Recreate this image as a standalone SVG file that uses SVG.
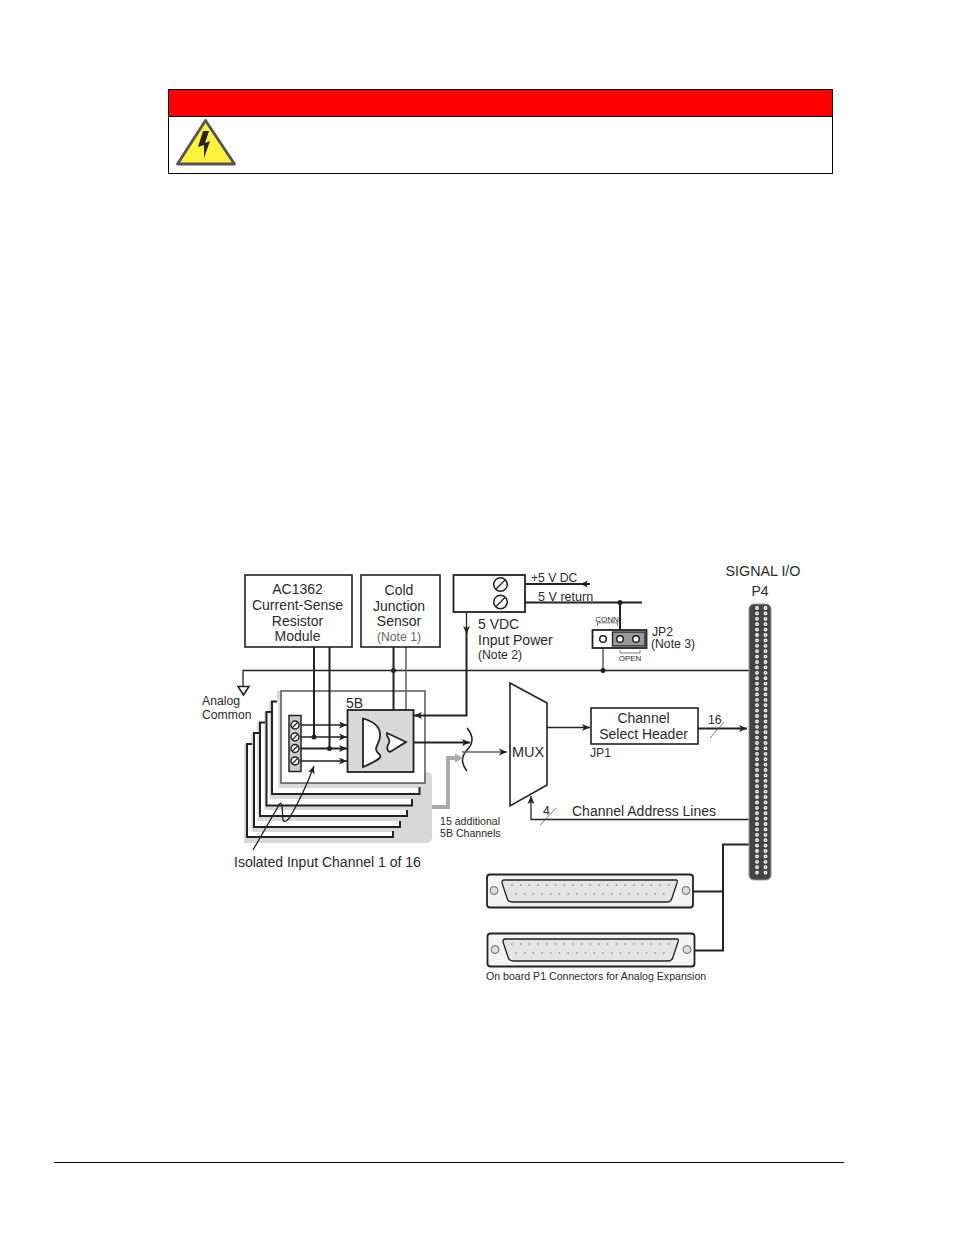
<svg xmlns="http://www.w3.org/2000/svg" width="954" height="1235" viewBox="0 0 954 1235">
<style>
text{font-family:"Liberation Sans",Arial,sans-serif;fill:#2a2a2a}
.b{fill:#fff;stroke:#222;stroke-width:1.6}
.l{fill:none;stroke:#222;stroke-width:1.3}
.th{fill:none;stroke:#555;stroke-width:.8}
.t{fill:none;stroke:#222;stroke-width:2}
.g{fill:none;stroke:#666;stroke-width:1.6}
.s{fill:#fff;stroke:#222;stroke-width:1.5}
.m{text-anchor:middle}
.f14{font-size:14px}.f12{font-size:12.2px}.f10{font-size:10.6px}.f7{font-size:8px}
</style>
<defs>
<marker id="a" markerUnits="userSpaceOnUse" markerWidth="9" markerHeight="8" refX="8" refY="4" orient="auto"><path d="M0 .5L8 4L0 7.5L2 4Z" fill="#222"/></marker>
</defs>
<rect width="954" height="1235" fill="#fff"/>
<g id="warning">
<rect x="168.500" y="89.500" width="664" height="84" fill="#fff" stroke="#000"/>
<rect x="169" y="90" width="663" height="26" fill="#f00"/>
<path d="M168.500 116.500H832.500" stroke="#000"/>
<path d="M205.500 120.500L234.500 164H177.500Z" fill="#fff23a" stroke="#555" stroke-width="2.800" stroke-linejoin="round"/>
<path d="M203 131L198 147L204 145L204 158L210 141L205 143L209 131Z" fill="#222"/>
</g>
<path id="footer-rule" d="M54 1162.500H844" stroke="#000"/>
<g id="cards">
<path d="M244 843V744H251V733H257V722H264V712H269V701H277V691H425V772H427Q432 772 432 777V837Q432 843 426 843Z" fill="#d8d8d8"/>
<path fill="#fff" d="M272 701H278.500V788H419V794H272Z"/>
<path fill="#fff" d="M266.500 712H269.500V799H412V805H266.500Z"/>
<path fill="#fff" d="M260 722H264.500V810H407V816H260Z"/>
<path fill="#fff" d="M254 733H257.500V821H400V827H254Z"/>
<path fill="#fff" d="M247 744H251.500V832H393V837H247Z"/>
<path class="t" d="M277 701.500H272V794H419.500V787"/>
<path class="t" d="M271 712H266.500V805.500H412V799"/>
<path class="t" d="M265 722.500H260V816H407V810"/>
<path class="t" d="M259 733H254V827H400V821"/>
<path class="t" d="M252 744H247V837H393V831"/>
<rect x="281" y="691" width="144" height="92" fill="#fff" stroke="#555" stroke-width="1.500"/>
</g>
<g id="connectors">
<path class="l" d="M749 670.500H243V686"/>
<path class="t" d="M314 647V737M329.500 647V748M393.500 647V710"/>
<path class="g" d="M406 647V710"/>
<path class="l" d="M301 725H347" marker-end="url(#a)"/>
<path class="l" d="M301 737H347" marker-end="url(#a)"/>
<path class="t" d="M301 748.500H347" marker-end="url(#a)"/>
<path class="l" d="M301 761H347" marker-end="url(#a)"/>
<path class="l" d="M466.500 612V634" marker-end="url(#a)"/>
<path class="t" d="M466.500 630V715.500H414" marker-end="url(#a)"/>
<path class="t" d="M413 742.500H470" marker-end="url(#a)"/>
<path fill="none" stroke="#222" stroke-width="1.500" d="M467 728Q477 740 467 750Q458 760 467 771"/>
<path class="g" d="M462 752H507" marker-end="url(#a)"/>
<path fill="none" stroke="#aaa" stroke-width="3.800" d="M432 807H448V758H456"/>
<path d="M455 753.500L463 758L455 762.500Z" fill="#aaa"/>
<path class="t" d="M507 584H590"/>
<path class="l" d="M590 584H580" marker-end="url(#a)"/>
<path class="t" d="M507 602.500H642M620 602V636"/>
<path class="g" d="M603 640V670"/>
<path class="l" d="M547 727.500H590" marker-end="url(#a)"/>
<path class="t" d="M698 728.500H747" marker-end="url(#a)"/>
<path class="th" d="M710 738L724 722"/>
<path class="l" d="M749 819.500H531V796" marker-end="url(#a)"/>
<path class="th" d="M540 825L556 808"/>
<path class="t" d="M749 844.500H723V950.500H694M723 891.500H693"/>
<path class="l" d="M253 850L279 805Q281 801 282 806L283 820Q285 824 290 817Q303 795 314 766" marker-end="url(#a)"/>
<circle cx="393.500" cy="670.500" r="2.500" fill="#222"/>
<circle cx="314" cy="737" r="2.500" fill="#222"/>
<circle cx="329.500" cy="748.500" r="2.500" fill="#222"/>
<circle cx="620" cy="602.500" r="2.500" fill="#222"/>
<circle cx="603" cy="670.500" r="2.500" fill="#222"/>
</g>
<g id="ground"><path d="M238 686.500H249L243.500 695Z" fill="#fff" stroke="#222" stroke-width="1.500"/></g>
<text class="f12" x="202" y="705">Analog</text>
<text class="f12" x="202" y="719">Common</text>
<g id="ac1362">
<rect class="b" x="245" y="575" width="107" height="72"/>
<text class="f14 m" x="297.500" y="594">AC1362</text>
<text class="f14 m" x="297.500" y="610">Current-Sense</text>
<text class="f14 m" x="297.500" y="625.500">Resistor</text>
<text class="f14 m" x="297.500" y="641">Module</text>
</g>
<g id="cold-junction">
<rect class="b" x="361" y="575" width="79" height="72"/>
<text class="f14 m" x="399" y="595">Cold</text>
<text class="f14 m" x="399" y="611">Junction</text>
<text class="f14 m" x="399" y="626">Sensor</text>
<text class="f12 m" x="399" y="641" style="fill:#666">(Note 1)</text>
</g>
<g id="power">
<rect x="453.500" y="575" width="71.500" height="37" fill="#fff" stroke="#222" stroke-width="1.800"/>
<circle class="s" cx="500.500" cy="584.500" r="6.800"/><path class="l" d="M496 589L505 580"/>
<circle class="s" cx="500.500" cy="602" r="6.800"/><path class="l" d="M496 606.500L505 597.500"/>
<text class="f14" x="478" y="629">5 VDC</text>
<text class="f14" x="478" y="645">Input Power</text>
<text class="f12" x="478" y="659">(Note 2)</text>
<text class="f12" x="531" y="582">+5 V DC</text>
<text style="font-size:12.600px" x="538" y="601">5 V return</text>
</g>
<g id="jp2">
<rect x="592.500" y="630" width="54" height="18" fill="#fff" stroke="#222" stroke-width="1.800"/>
<rect x="612.500" y="632" width="32.500" height="14" fill="#999" stroke="#222" stroke-width="1.300"/>
<circle class="s" cx="603" cy="639" r="3.300"/><circle class="s" cx="620" cy="639" r="3.300"/><circle class="s" cx="636" cy="639" r="3.300"/>
<path class="th" d="M597.500 626V622.800H617.500V626M620 650V653H640V650"/>
<text class="f7 m" x="607" y="621.500">CONN</text>
<text class="f7 m" x="630" y="661">OPEN</text>
<text class="f12" x="652" y="636">JP2</text>
<text class="f12" x="651" y="648">(Note 3)</text>
</g>
<g id="terminal-strip">
<rect x="289" y="715.500" width="12" height="56" fill="#ccc" stroke="#222" stroke-width="1.500"/>
<circle class="s" cx="295" cy="725" r="4"/><path class="l" d="M292 728L298 722"/>
<circle class="s" cx="295" cy="737" r="4"/><path class="l" d="M292 740L298 734"/>
<circle class="s" cx="295" cy="748.500" r="4"/><path class="l" d="M292 751.500L298 745.500"/>
<circle class="s" cx="295" cy="761" r="4"/><path class="l" d="M292 764L298 758"/>
</g>
<g id="module-5b">
<text class="f14" x="346" y="708">5B</text>
<rect x="347.500" y="710" width="66" height="62" fill="#d9d9d9" stroke="#222" stroke-width="1.800"/>
<path d="M363 718.500C376 722 381 728 380 737C379 745 373 748 378 753C383 757 381 759 363 767Z" fill="#fff" stroke="#222" stroke-width="1.800"/>
<path d="M387 733L406 742L390 752C386 750 387 746 389 743C391 739 386 738 387 733Z" fill="#fff" stroke="#222" stroke-width="1.800"/>
</g>
<text class="f10" x="440" y="825">15 additional</text>
<text class="f10" x="440" y="837">5B Channels</text>
<text class="f14" x="234" y="867">Isolated Input Channel 1 of 16</text>
<g id="mux">
<path d="M510 683L547 703V785L510 806Z" fill="#fff" stroke="#222" stroke-width="1.600"/>
<text class="m" style="font-size:14.500px" x="528" y="757">MUX</text>
</g>
<g id="channel-select">
<rect class="b" x="591" y="708" width="107" height="36"/>
<text class="f14 m" x="643.500" y="723">Channel</text>
<text class="f14 m" x="643.500" y="739">Select Header</text>
<text class="f12" x="590" y="757">JP1</text>
</g>
<text class="f12" x="708" y="724">16</text>
<text class="f12" x="543" y="815">4</text>
<text class="f14" x="572" y="816">Channel Address Lines</text>
<g id="p4">
<text class="m" style="font-size:14.300px" x="763" y="576">SIGNAL I/O</text>
<text class="f14 m" x="760" y="596">P4</text>
<rect x="749" y="604" width="22" height="276" rx="5" fill="#444" stroke="#999"/>
<path d="M757 608V878M765.500 608V878" stroke="#fff" stroke-width="3.800" stroke-linecap="round" stroke-dasharray="0 5.400" fill="none"/>
<path d="M757 608V878M765.500 608V878" stroke="#777" stroke-width="1.400" stroke-linecap="round" stroke-dasharray="0 5.400" fill="none"/>
</g>
<g id="connector-a">
<rect x="487" y="874.500" width="206" height="33" rx="3" fill="#f4f4f4" stroke="#222" stroke-width="1.800"/>
<circle cx="494" cy="890.500" r="4" fill="#ddd" stroke="#666"/><circle cx="686" cy="890.500" r="4" fill="#ddd" stroke="#666"/>
<path d="M504 880H676Q678 880 677 883L672 898Q671 902 667 902H512Q508 902 507 898L502 883Q502 880 504 880Z" fill="#e4e4e4" stroke="#222" stroke-width="1.300"/>
<path d="M512 885H670" stroke="#777" stroke-width="1.600" stroke-linecap="round" stroke-dasharray="0 8.700" fill="none"/>
<path d="M516 894H666" stroke="#777" stroke-width="1.600" stroke-linecap="round" stroke-dasharray="0 8.700" fill="none"/>
</g>
<g id="connector-b">
<rect x="487.500" y="933.500" width="207" height="33" rx="3" fill="#f4f4f4" stroke="#222" stroke-width="1.800"/>
<circle cx="495" cy="949.500" r="4" fill="#ddd" stroke="#666"/><circle cx="687" cy="949.500" r="4" fill="#ddd" stroke="#666"/>
<path d="M505 939H677Q679 939 678 942L673 957Q672 961 668 961H513Q509 961 508 957L503 942Q503 939 505 939Z" fill="#e4e4e4" stroke="#222" stroke-width="1.300"/>
<path d="M512 944H672" stroke="#777" stroke-width="1.600" stroke-linecap="round" stroke-dasharray="0 8.700" fill="none"/>
<path d="M516 953H668" stroke="#777" stroke-width="1.600" stroke-linecap="round" stroke-dasharray="0 8.700" fill="none"/>
</g>
<text class="f10" x="486" y="980">On board P1 Connectors for Analog Expansion</text>
</svg>
